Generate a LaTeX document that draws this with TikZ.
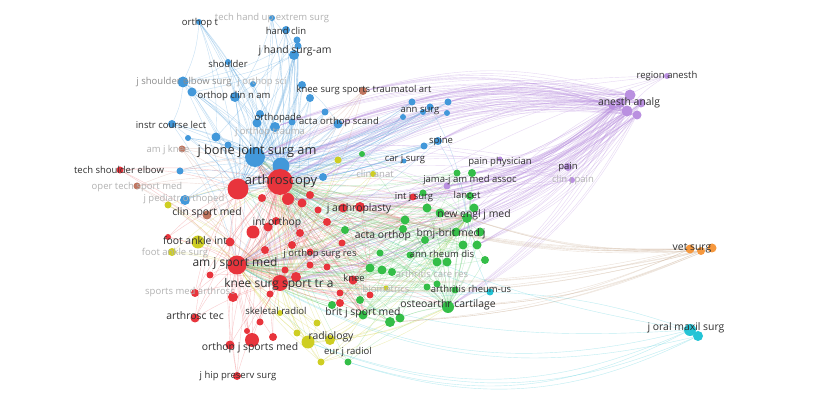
\documentclass[tikz,border=0pt]{standalone}
\usepackage{fontspec}
\setmainfont{Open Sans}
\usetikzlibrary{backgrounds}
\definecolor{vosblue}{RGB}{66,152,218}
\definecolor{vosred}{RGB}{232,52,60}
\definecolor{vosgreen}{RGB}{52,190,72}
\definecolor{vosyellow}{RGB}{206,206,34}
\definecolor{vospurple}{RGB}{186,144,224}
\definecolor{vosorange}{RGB}{246,152,62}
\definecolor{voscyan}{RGB}{36,196,214}
\definecolor{vosbrown}{RGB}{192,118,96}
\definecolor{labgray}{RGB}{48,48,48}
\colorlet{fadegray}{black!30}

\begin{document}
\begin{tikzpicture}[x=1pt,y=-1pt,
    vdot/.style={circle,inner sep=0pt,minimum size=#1},
    bdot/.style={vdot=#1,fill=vosblue}, bdot/.default=7,
    rdot/.style={vdot=#1,fill=vosred}, rdot/.default=7,
    gdot/.style={vdot=#1,fill=vosgreen}, gdot/.default=8,
    ydot/.style={vdot=#1,fill=vosyellow}, ydot/.default=7,
    pdot/.style={vdot=#1,fill=vospurple}, pdot/.default=8,
    odot/.style={vdot=#1,fill=vosorange}, odot/.default=9,
    cdot/.style={vdot=#1,fill=voscyan}, cdot/.default=10,
    ndot/.style={vdot=#1,fill=vosbrown}, ndot/.default=7,
    lab/.style={inner sep=0pt,text=labgray,font=\fontsize{9.5}{10}\selectfont},
    labm/.style={lab,font=\fontsize{10.4}{11}\selectfont},
    labl/.style={lab,font=\fontsize{12}{13}\selectfont},
    labxl/.style={lab,font=\fontsize{12.8}{14}\selectfont},
    faded/.style={lab,text=fadegray},
    eblue/.style={draw=vosblue,opacity=.3,line width=.4pt},
    ered/.style={draw=vosred,opacity=.25,line width=.4pt},
    egreen/.style={draw=vosgreen,opacity=.25,line width=.4pt},
    eyellow/.style={draw=vosyellow,opacity=.3,line width=.4pt},
    epurple/.style={draw=vospurple,opacity=.35,line width=.4pt},
    eorange/.style={draw=vosorange!60!black!45,opacity=.4,line width=.4pt},
    ecyan/.style={draw=voscyan,opacity=.3,line width=.4pt},
    ebrown/.style={draw=vosbrown,opacity=.25,line width=.4pt}]
  \useasboundingbox (0,0) rectangle (822,395);

  % blue cluster
  \node[bdot=20] (jbjs) at (255,157) {};
  \node[bdot=17] (jbjs2) at (281,166) {};
  \node[bdot=6] (ortt) at (199,22) {};
  \node[bdot=6] (thand) at (272,18) {};
  \node[bdot=8] (hclin) at (286,30) {};
  \node[bdot=7] (jh2) at (297,40) {};
  \node[bdot=7] (jh3) at (298,46) {};
  \node[bdot=10] (jhand) at (294,55) {};
  \node[bdot=6] (shld) at (228,62) {};
  \node[bdot=11] (jse) at (183,82) {};
  \node[bdot=9] (jse2) at (192,92) {};
  \node[bdot=6] (jos) at (253,84) {};
  \node[bdot=10] (ocna) at (235,97) {};
  \node[bdot=8] (b1) at (302,85) {};
  \node[bdot=8] (b2) at (310,98) {};
  \node[bdot=8] (orpd) at (260,114) {};
  \node[bdot=9] (b3) at (257,123) {};
  \node[bdot=10] (b4) at (275,127) {};
  \node[bdot=7] (b5) at (292,122) {};
  \node[bdot=9] (aos) at (338,124) {};
  \node[bdot=7] (b6) at (325,112) {};
  \node[bdot=8] (icl) at (172,124) {};
  \node[bdot=6] (b7) at (188,138) {};
  \node[bdot=9] (b8) at (216,137) {};
  \node[bdot=7] (b9) at (228,145) {};
  \node[bdot=7] (b10) at (180,171) {};
  \node[bdot=10] (jpo) at (185,200) {};
  \node[bdot=8] (b11) at (323,177) {};
  \node[bdot=7] (as1) at (412,102) {};
  \node[bdot=7] (as2) at (430,107) {};
  \node[bdot=7] (as3) at (448,102) {};
  \node[bdot=6] (as4) at (447,113) {};
  \node[bdot=6] (as5) at (403,117) {};
  \node[bdot=6] (as6) at (423,112) {};
  \node[bdot=8] (spine) at (438,141) {};
  \node[bdot=7] (spine2) at (424,146) {};
  \node[bdot=5] (cjs) at (404,161) {};

  % brown
  \node[ndot=8] (kssta) at (363,91) {};
  \node[ndot=7] (amjknee) at (182,149) {};
  \node[ndot=7] (otsm) at (137,186) {};
  \node[ndot=9] (csm) at (207,215) {};

  % red cluster
  \node[rdot=26] (arth) at (280,182) {};
  \node[rdot=21] (arth2) at (238,189) {};
  \node[rdot=8] (r2) at (262,198) {};
  \node[rdot=12] (r3) at (288,199) {};
  \node[rdot=8] (r4) at (310,195) {};
  \node[rdot=8] (r5) at (300,233) {};
  \node[rdot=8] (r6) at (292,245) {};
  \node[rdot=9] (r7) at (268,227) {};
  \node[rdot=13] (r8) at (253,232) {};
  \node[rdot=9] (r9) at (230,242) {};
  \node[rdot=8] (r10) at (265,250) {};
  \node[rdot=6] (r11) at (168,237) {};
  \node[rdot=8] (r12) at (276,221) {};
  \node[rdot=9] (r13) at (302,203) {};
  \node[rdot=8] (r14) at (327,222) {};
  \node[rdot=7] (r15) at (285,270) {};
  \node[rdot=7] (r16) at (327,267) {};
  \node[rdot=7] (r17) at (310,265) {};
  \node[rdot=7] (r18) at (210,275) {};
  \node[rdot=10] (r19) at (233,297) {};
  \node[rdot=7] (r20) at (260,322) {};
  \node[rdot=8] (r21) at (273,337) {};
  \node[rdot=6] (r22) at (247,331) {};
  \node[rdot=7] (r23) at (270,294) {};
  \node[rdot=8] (r25) at (340,303) {};
  \node[rdot=7] (r26) at (310,252) {};
  \node[rdot=7] (r28) at (318,210) {};
  \node[rdot=7] (r29) at (340,293) {};
  \node[rdot=7] (r30) at (370,295) {};
  \node[rdot=7] (r31) at (342,243) {};
  \node[rdot=9] (r33) at (343,208) {};
  \node[rdot=10] (jarthro) at (360,207) {};
  \node[rdot=19] (amjsm) at (237,265) {};
  \node[rdot=16] (ksstra) at (280,283) {};
  \node[rdot=10] (ksstra2) at (296,277) {};
  \node[rdot=9] (knee) at (353,280) {};
  \node[rdot=8] (smar) at (195,293) {};
  \node[rdot=9] (artec) at (195,318) {};
  \node[rdot=14] (ojsm) at (252,340) {};
  \node[rdot=9] (ojsm2) at (230,345) {};
  \node[rdot=8] (jhps) at (237,376) {};
  \node[rdot=7] (tse) at (120,170) {};
  \node[rdot=7] (intjsurg) at (413,197) {};

  % green cluster
  \node[gdot=6] (g1) at (362,154) {};
  \node[gdot=7] (g2) at (457,173) {};
  \node[gdot=8] (g3) at (472,173) {};
  \node[gdot=8] (lancet) at (470,196) {};
  \node[gdot=7] (g4) at (423,193) {};
  \node[gdot=9] (g5) at (427,208) {};
  \node[gdot=9] (g6) at (440,213) {};
  \node[gdot=10] (nejm) at (467,218) {};
  \node[gdot=9] (g7) at (474,208) {};
  \node[gdot=9] (g8) at (405,220) {};
  \node[gdot=8] (g9) at (403,229) {};
  \node[gdot=8] (actao) at (345,230) {};
  \node[gdot=9] (bmj) at (456,232) {};
  \node[gdot=9] (g11) at (480,232) {};
  \node[gdot=9] (g12) at (463,245) {};
  \node[gdot=9] (g13) at (477,245) {};
  \node[gdot=8] (g14) at (485,260) {};
  \node[gdot=9] (g15) at (437,262) {};
  \node[gdot=9] (g16) at (447,262) {};
  \node[gdot=9] (g17) at (370,268) {};
  \node[gdot=9] (g18) at (382,270) {};
  \node[gdot=8] (g19) at (392,272) {};
  \node[gdot=7] (g20) at (380,253) {};
  \node[gdot=7] (g21) at (427,287) {};
  \node[gdot=7] (g22) at (437,284) {};
  \node[gdot=8] (g23) at (360,300) {};
  \node[gdot=8] (g24) at (332,305) {};
  \node[gdot=9] (bjsm) at (363,315) {};
  \node[gdot=10] (g26) at (390,322) {};
  \node[gdot=9] (g27) at (400,318) {};
  \node[gdot=8] (g28) at (425,240) {};
  \node[gdot=7] (g29) at (410,255) {};
  \node[gdot=7] (g30) at (455,290) {};
  \node[gdot=12] (oac) at (448,307) {};
  \node[gdot=7] (eurjr) at (348,362) {};

  % yellow cluster
  \node[ydot=13] (fai) at (198,242) {};
  \node[ydot=8] (fas) at (172,252) {};
  \node[ydot=7] (y1) at (168,205) {};
  \node[ydot=6] (clinanat) at (373,174) {};
  \node[ydot=7] (y2) at (338,160) {};
  \node[ydot=5] (biom) at (386,288) {};
  \node[ydot=13] (radio) at (308,342) {};
  \node[ydot=10] (radio2) at (330,340) {};
  \node[ydot=7] (y3) at (317,323) {};
  \node[ydot=7] (y4) at (297,333) {};
  \node[ydot=7] (y5) at (321,362) {};
  \node[ydot=6] (skr) at (280,313) {};

  % purple, orange, cyan
  \node[pdot=11] (an1) at (630,95) {};
  \node[pdot=10] (an2) at (620,103) {};
  \node[pdot=9] (an3) at (641,103) {};
  \node[pdot=11] (an4) at (627,111) {};
  \node[pdot=9] (an5) at (637,115) {};
  \node[pdot=7] (an6) at (612,106) {};
  \node[pdot=6] (regan) at (667,76) {};
  \node[pdot=8] (pain) at (568,167) {};
  \node[pdot=6] (clinjpain) at (572,180) {};
  \node[pdot=7] (jama) at (447,186) {};
  \node[pdot=5] (painph) at (500,159) {};
  \node[odot=9] (vet1) at (690,249) {};
  \node[odot=8] (vet2) at (701,251) {};
  \node[odot=9] (vet3) at (712,248) {};
  \node[cdot=12] (joms1) at (690,330) {};
  \node[cdot=10] (joms2) at (698,336) {};
  \node[cdot=7] (arheum) at (490,292) {};

  % links
  \begin{scope}[on background layer]
    \fill[white] (0,0) rectangle (822,395);
    \foreach \s in {ortt,thand,hclin,jh2,jh3,jhand,shld,jse,jse2,jos,ocna,b1,b2,orpd,b3,b4,b5,aos,b6,icl,b7,b8,b9,b10,jpo,b11,as1,as2,as3,as4,as5,as6,spine,spine2,cjs}
      \foreach \t in {jbjs,jbjs2,arth,arth2}
        \draw[eblue] (\s) to[bend left=8] (\t);
    \foreach \s/\t in {ortt/jse,ortt/ocna,ortt/b8,ortt/b3,thand/jhand,thand/ocna,hclin/jhand,hclin/b8,jh2/ocna,jh2/jse,jhand/jse,jhand/b4,jhand/jse2,jhand/orpd,jhand/amjsm,shld/jse,shld/ocna,shld/b4,jse/icl,jse/amjsm,ocna/b3,b1/aos,b2/ksstra,aos/amjsm,as1/amjsm,spine/amjsm,jse2/ksstra,icl/amjsm,ocna/amjsm,jhand/ksstra,as2/nejm,spine/nejm}
      \draw[eblue] (\s) to[bend left=10] (\t);
    \foreach \s in {arth2,r2,r3,r4,r5,r6,r7,r8,r9,r10,r11,r12,r13,r14,r15,r16,r17,r18,r19,r20,r21,r22,r23,r25,r26,r28,r29,r30,r31,r33,jarthro,ksstra2,knee,smar,artec,ojsm,ojsm2,jhps,tse,intjsurg}
      \foreach \t in {arth,amjsm,ksstra}
        \draw[ered] (\s) to[bend left=8] (\t);
    \foreach \s in {r3,r5,r6,r14,r16,r17,r26,r31,r33,jarthro,knee,r25}
      \foreach \t in {nejm,bjsm,g17,g8,jbjs}
        \draw[ered] (\s) to[bend left=8] (\t);
    \foreach \s/\t in {arth/amjsm,arth/ksstra,amjsm/ksstra,arth/jbjs,arth/nejm,arth/oac,amjsm/bjsm,ksstra/oac,arth/lancet,amjsm/jarthro,ksstra/g26,arth/g12,amjsm/g17,jarthro/nejm,intjsurg/lancet,knee/oac,jhps/arth2,ojsm/arth2,artec/arth2,smar/arth2,tse/arth2,r8/arth2,r19/arth2,r11/arth2}
      \draw[ered] (\s) to[bend left=10] (\t);
    \foreach \s in {g1,g2,g3,lancet,g4,g5,g6,g7,g8,g9,actao,bmj,g11,g12,g13,g14,g15,g16,g17,g18,g19,g20,g21,g22,g23,g24,bjsm,g26,g27,g28,g29,g30,eurjr}
      \foreach \t in {nejm,oac,arth,amjsm}
        \draw[egreen] (\s) to[bend left=8] (\t);
    \foreach \s in {g2,g6,bmj,g12,g16,g26,g9,g18,g28}
      \foreach \t in {jbjs,ksstra,arth2,knee,bjsm}
        \draw[egreen] (\s) to[bend left=10] (\t);
    \foreach \s in {fai,fas,y1,clinanat,y2,biom,radio,radio2,y3,y4,y5,skr}
      \foreach \t in {arth,amjsm,ksstra}
        \draw[eyellow] (\s) to[bend left=8] (\t);
    \foreach \s in {y3,y4,y5,skr,radio2}
      \draw[eyellow] (\s) to[bend left=8] (radio);
    \foreach \s in {radio,radio2,y5}
      \foreach \t in {bjsm,oac,g26,nejm}
        \draw[eyellow] (\s) to[bend right=10] (\t);
    \foreach \s in {an1,an2,an3,an4,an5,an6}
      \foreach \t in {arth,arth2,jbjs,jbjs2,kssta,aos,as3,as1,spine,b11,b4}
        \draw[epurple] (\s) to[bend right=16] (\t);
    \foreach \s in {an1,an2,an3,an4,an5,an6}
      \foreach \t in {amjsm,ksstra,nejm,lancet,jama,jarthro,intjsurg,g3,bmj,r3,oac,g13}
        \draw[epurple] (\s) to[bend left=16] (\t);
    \foreach \s in {regan,pain,clinjpain,painph,jama}
      \foreach \t in {arth,jbjs,amjsm,ksstra,nejm,an4}
        \draw[epurple] (\s) to[bend right=10] (\t);
    \foreach \s in {vet1,vet2,vet3}
      \foreach \t in {arth,amjsm,ksstra,oac,g26,jarthro,nejm}
        \draw[eorange] (\s) to[bend left=10] (\t);
    \foreach \s in {joms1,joms2}
      \foreach \t in {radio,eurjr,amjsm}
        \draw[ecyan] (\s) to[bend left=22] (\t);
    \foreach \t in {arth,ksstra}
      \draw[ecyan] (joms1) to[bend left=10] (\t);
    \foreach \t in {arth,nejm,oac,amjsm,ksstra,joms1}
      \draw[ecyan] (arheum) to[bend left=8] (\t);
    \foreach \s in {kssta,amjknee,otsm,csm}
      \foreach \t in {arth,jbjs,amjsm,ksstra,arth2}
        \draw[ebrown] (\s) to[bend left=8] (\t);
  \end{scope}

  % labels
  \node[lab] (t-ortt) at (200,23) {orthop t};
  \node[faded] (t-thand) at (272,18) {tech hand up extrem surg};
  \node[lab] (t-hclin) at (286,31) {hand clin};
  \node[labm] (t-jhand) at (295,51) {j hand surg-am};
  \node[lab] (t-shld) at (228,64) {shoulder};
  \node[lab,text=black!45] (t-jse) at (184,82) {j shoulder elbow surg};
  \node[faded] (t-jos) at (262,82) {j orthop sci};
  \node[lab] (t-ocna) at (234,96) {orthop clin n am};
  \node[lab] (t-kssta) at (364,90) {knee surg sports traumatol art};
  \node[lab] (t-as) at (420,111) {ann surg};
  \node[lab] (t-orpd) at (278,118) {orthopade};
  \node[lab] (t-aos) at (339,122) {acta orthop scand};
  \node[lab] (t-icl) at (171,125) {instr course lect};
  \node[faded] (t-jot) at (270,132) {j orthop trauma};
  \node[faded] (t-amjknee) at (168,150) {am j knee};
  \node[lab] (t-spine) at (441,141) {spine};
  \node[labxl] (t-jbjs) at (257,151) {j bone joint surg am};
  \node[lab] (t-tse) at (119,170) {tech shoulder elbow};
  \node[faded] (t-otsm) at (137,187) {oper tech sport med};
  \node[lab,font=\fontsize{13}{14}\selectfont] (t-arth) at (281,181) {arthroscopy};
  \node[faded] (t-jpo) at (184,199) {j pediatr orthoped};
  \node[labm] (t-csm) at (207,213) {clin sport med};
  \node[labm] (t-intorth) at (277,223) {int orthop};
  \node[labm] (t-jarthro) at (359,209) {j arthroplasty};
  \node[lab] (t-cjs) at (405,159) {car j surg};
  \node[faded] (t-clinanat) at (375,174) {clin anat};
  \node[lab] (t-painph) at (500,162) {pain physician};
  \node[lab] (t-jama) at (470,180) {jama-j am med assoc};
  \node[lab] (t-lancet) at (467,195) {lancet};
  \node[lab] (t-intjsurg) at (414,197) {int j surg};
  \node[labm] (t-nejm) at (474,215) {new engl j med};
  \node[labm] (t-anesth) at (629,103) {anesth analg};
  \node[lab] (t-regan) at (667,76) {region anesth};
  \node[lab] (t-pain) at (568,167) {pain};
  \node[faded] (t-clinjpain) at (573,180) {clin j pain};
  \node[labm] (t-fai) at (195,241) {foot ankle int};
  \node[faded] (t-fas) at (175,253) {foot ankle surg};
  \node[labl] (t-amjsm) at (235,263) {am j sport med};
  \node[lab] (t-jorsr) at (320,254) {j orthop surg res};
  \node[labm] (t-bmj) at (451,234) {bmj-brit med j};
  \node[labm] (t-actao) at (383,236) {acta orthop};
  \node[lab] (t-ard) at (442,254) {ann rheum dis};
  \node[lab] (t-knee) at (354,278) {knee};
  \node[labl] (t-ksstra) at (279,284) {knee surg sport tr a};
  \node[faded] (t-acr) at (432,274) {arthritis care res};
  \node[faded] (t-biom) at (386,289) {biometrics};
  \node[lab] (t-arheum) at (471,289) {arthritis rheum-us};
  \node[faded] (t-smar) at (190,292) {sports med arthrosc};
  \node[labm] (t-oac) at (448,305) {osteoarthr cartilage};
  \node[labm] (t-artec) at (195,316) {arthrosc tec};
  \node[lab] (t-skr) at (276,311) {skeletal radiol};
  \node[labm] (t-bjsm) at (363,313) {brit j sport med};
  \node[labm] (t-radio) at (331,337) {radiology};
  \node[labm] (t-ojsm) at (250,348) {orthop j sports med};
  \node[lab] (t-eurjr) at (348,352) {eur j radiol};
  \node[lab] (t-jhps) at (238,376) {j hip preserv surg};
  \node[labm] (t-vet) at (692,248) {vet surg};
  \node[labm] (t-joms) at (686,328) {j oral maxil surg};
\end{tikzpicture}
\end{document}
